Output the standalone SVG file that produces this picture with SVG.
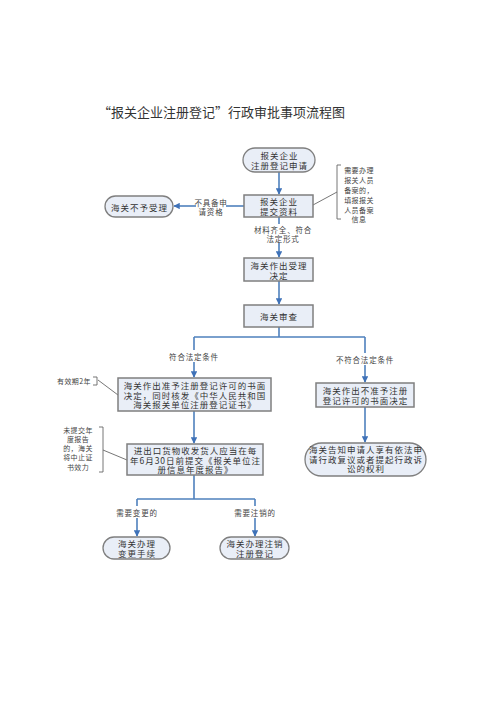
<svg xmlns="http://www.w3.org/2000/svg" width="500" height="707" viewBox="0 0 500 707">
<style>
.bg{fill:#ffffff}
.box{fill:#e9eef7;stroke:#7f7f7f;stroke-width:1.5}
.ov{fill:#e9eef7;stroke:#7f7f7f;stroke-width:1.3}
.t{font-family:"Noto Sans CJK SC","Noto Sans CJK JP",sans-serif;font-size:8.5px;letter-spacing:1px;fill:#333;text-anchor:middle;dominant-baseline:central}
.lb{font-family:"Noto Sans CJK SC","Noto Sans CJK JP",sans-serif;font-size:7.5px;letter-spacing:0.8px;fill:#444;text-anchor:middle;dominant-baseline:central}
.nt{font-family:"Noto Sans CJK SC","Noto Sans CJK JP",sans-serif;font-size:7px;letter-spacing:0.4px;fill:#444;text-anchor:middle;dominant-baseline:central}
.title{font-family:"Noto Sans CJK SC","Noto Sans CJK JP",sans-serif;font-size:13px;fill:#333;dominant-baseline:central}
.ln{fill:none;stroke:#4f81bd;stroke-width:1.6}
.gl{fill:none;stroke:#666;stroke-width:0.9}
</style>
<defs>
<marker id="ar" viewBox="0 0 10 10" refX="9" refY="5" markerWidth="4" markerHeight="4" orient="auto">
<path d="M0,0 L10,5 L0,10 z" fill="#3f72b8"/>
</marker>
</defs>
<rect class="bg" x="0" y="0" width="500" height="707"/>
<text class="title" x="98" y="111">“报关企业注册登记”行政审批事项流程图</text>

<g id="connectors">
<path class="ln" d="M279,172 L279,194" marker-end="url(#ar)"/>
<path class="ln" d="M244,206 L226,206"/>
<path class="ln" d="M196,206 L174,206" marker-end="url(#ar)"/>
<path class="ln" d="M279,217 L279,224"/>
<path class="ln" d="M279,243 L279,257" marker-end="url(#ar)"/>
<path class="ln" d="M279,281 L279,304" marker-end="url(#ar)"/>
<path class="ln" d="M279,327 L279,337 M194,337 L365,337"/>
<path class="ln" d="M194,337 L194,350 M194,362 L194,377" marker-end="url(#ar)"/>
<path class="ln" d="M365,337 L365,353 M365,365 L365,382" marker-end="url(#ar)"/>
<path class="ln" d="M365,407 L365,442" marker-end="url(#ar)"/>
<path class="ln" d="M194,411 L194,443" marker-end="url(#ar)"/>
<path class="ln" d="M194,475 L194,499 M137,499 L255,499"/>
<path class="ln" d="M137,499 L137,506 M137,518 L137,536" marker-end="url(#ar)"/>
<path class="ln" d="M255,499 L255,506 M255,518 L255,536" marker-end="url(#ar)"/>
<path class="gl" d="M313,205 L337,192"/>
<path class="gl" d="M98,380 L118,395"/>
<path class="gl" d="M103,450 L127,460"/>
</g>

<g id="start">
<rect class="ov" x="243" y="148" width="72" height="24" rx="12"/>
<text class="t" x="279.5" y="155">报关企业</text>
<text class="t" x="279.5" y="165">注册登记申请</text>
</g>
<g id="submit">
<rect class="box" x="244" y="195" width="69" height="22"/>
<text class="t" x="279" y="201">报关企业</text>
<text class="t" x="279" y="211">提交资料</text>
</g>
<g id="reject">
<rect class="ov" x="105" y="196" width="68" height="21" rx="10.5"/>
<text class="t" x="139.5" y="206.5">海关不予受理</text>
</g>
<g id="lbl-reject">
<text class="lb" x="211" y="202">不具备申</text>
<text class="lb" x="211" y="211">请资格</text>
</g>
<g id="lbl-material">
<text class="lb" x="283" y="229">材料齐全、符合</text>
<text class="lb" x="283" y="238">法定形式</text>
</g>
<g id="note-record">
<path class="gl" d="M341,165 L337,165 L337,219 L341,219"/>
<text class="nt" x="359" y="170">需要办理</text>
<text class="nt" x="359" y="180">报关人员</text>
<text class="nt" x="359" y="190">备案的，</text>
<text class="nt" x="359" y="200">填报报关</text>
<text class="nt" x="359" y="210">人员备案</text>
<text class="nt" x="359" y="219">信息</text>
</g>
<g id="accept">
<rect class="box" x="244" y="258" width="69" height="23"/>
<text class="t" x="279" y="264.5">海关作出受理</text>
<text class="t" x="279" y="274.5">决定</text>
</g>
<g id="review">
<rect class="box" x="244" y="305" width="69" height="22"/>
<text class="t" x="279" y="316">海关审查</text>
</g>
<g id="lbl-ok">
<text class="lb" x="194" y="356">符合法定条件</text>
</g>
<g id="lbl-notok">
<text class="lb" x="365" y="359">不符合法定条件</text>
</g>
<g id="grant">
<rect class="box" x="118" y="378" width="153" height="33"/>
<text class="t" x="195" y="385">海关作出准予注册登记许可的书面</text>
<text class="t" x="195" y="394.5">决定，同时核发《中华人民共和国</text>
<text class="t" x="195" y="404">海关报关单位注册登记证书》</text>
</g>
<g id="note-valid">
<text class="nt" x="74" y="381">有效期2年</text>
<path class="gl" d="M93,377 L97,377 L97,385 L93,385"/>
</g>
<g id="deny">
<rect class="box" x="316" y="383" width="98" height="24"/>
<text class="t" x="365.5" y="390">海关作出不准予注册</text>
<text class="t" x="365.5" y="400">登记许可的书面决定</text>
</g>
<g id="inform">
<rect class="ov" x="305" y="443" width="121" height="33" rx="16.5"/>
<text class="t" x="366" y="449">海关告知申请人享有依法申</text>
<text class="t" x="366" y="458.5">请行政复议或者提起行政诉</text>
<text class="t" x="366" y="468">讼的权利</text>
</g>
<g id="report">
<rect class="box" x="127" y="444" width="136" height="31"/>
<text class="t" x="195.5" y="450">进出口货物收发货人应当在每</text>
<text class="t" x="195.5" y="459.5">年6月30日前提交《报关单位注</text>
<text class="t" x="195.5" y="469">册信息年度报告》</text>
</g>
<g id="note-suspend">
<text class="nt" x="78" y="430">未提交年</text>
<text class="nt" x="78" y="439">度报告</text>
<text class="nt" x="78" y="448">的，海关</text>
<text class="nt" x="78" y="457">将中止证</text>
<text class="nt" x="78" y="467">书效力</text>
<path class="gl" d="M99,427 L103,427 L103,472 L99,472"/>
</g>
<g id="lbl-change">
<text class="lb" x="137" y="512">需要变更的</text>
</g>
<g id="lbl-cancel">
<text class="lb" x="255" y="512">需要注销的</text>
</g>
<g id="change">
<rect class="ov" x="103" y="537" width="67" height="22" rx="11"/>
<text class="t" x="137" y="543">海关办理</text>
<text class="t" x="137" y="553">变更手续</text>
</g>
<g id="cancel">
<rect class="ov" x="220" y="537" width="69" height="22" rx="11"/>
<text class="t" x="255" y="543">海关办理注销</text>
<text class="t" x="255" y="553">注册登记</text>
</g>
</svg>
